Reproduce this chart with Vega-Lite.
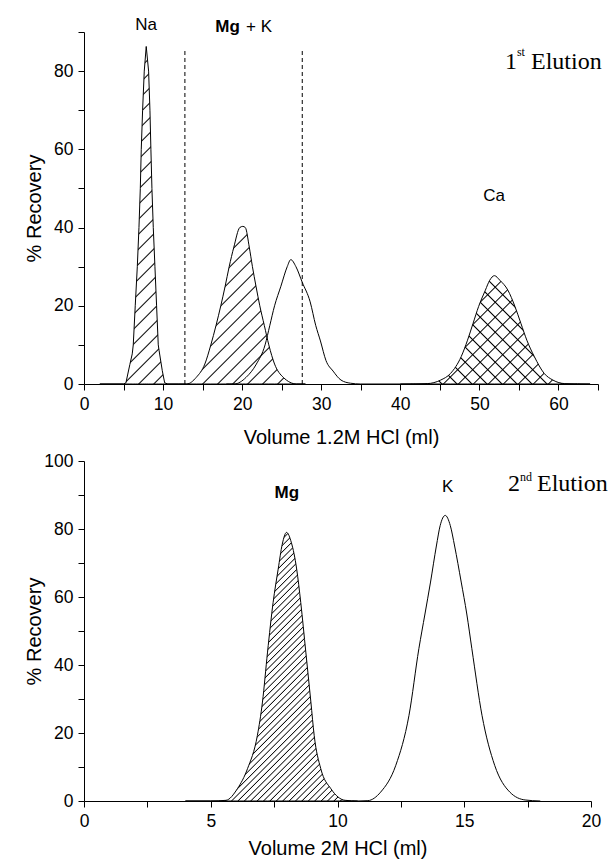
{
"$schema":"https://vega.github.io/schema/vega-lite/v6.json",
"background":"white",
"padding":{"left":24,"top":15,"right":0,"bottom":2},
"spacing":4,
"config":{"view":{"stroke":null},
"axis":{"labelFont":"Liberation Sans","labelFontSize":17.5,"labelColor":"#000","titleFont":"Liberation Sans","titleFontSize":20,"titleFontWeight":"normal","titleColor":"#000","domainColor":"#000","domainWidth":1,"tickColor":"#000","tickWidth":1,"tickSize":6,"labelPadding":5,"grid":false,"labelFlush":false,"labelOverlap":false}},
"vconcat":[
{"width":514,"height":352,
"data":{"values":[
{"s":"Na","x":2,"y":0},{"s":"Na","x":5.0,"y":0},{"s":"Na","x":5.3,"y":0.3},{"s":"Na","x":5.8,"y":5},{"s":"Na","x":6.1,"y":7.7},{"s":"Na","x":6.23,"y":10},{"s":"Na","x":6.48,"y":20},{"s":"Na","x":6.74,"y":30},{"s":"Na","x":6.95,"y":40},{"s":"Na","x":7.12,"y":50},{"s":"Na","x":7.24,"y":60},{"s":"Na","x":7.41,"y":70},{"s":"Na","x":7.62,"y":80},{"s":"Na","x":7.87,"y":86.3},{"s":"Na","x":8.17,"y":80},{"s":"Na","x":8.34,"y":70},{"s":"Na","x":8.46,"y":60},{"s":"Na","x":8.59,"y":50},{"s":"Na","x":8.76,"y":40},{"s":"Na","x":8.97,"y":30},{"s":"Na","x":9.18,"y":20},{"s":"Na","x":9.39,"y":10},{"s":"Na","x":9.5,"y":8.5},{"s":"Na","x":9.9,"y":3.4},{"s":"Na","x":10.2,"y":0.3},{"s":"Na","x":10.6,"y":0},{"s":"Na","x":12,"y":0},
{"s":"Mg","x":12,"y":0},{"s":"Mg","x":13,"y":0},{"s":"Mg","x":14.2,"y":1.7},{"s":"Mg","x":15.28,"y":5.1},{"s":"Mg","x":16.04,"y":10},{"s":"Mg","x":16.7,"y":15},{"s":"Mg","x":17.3,"y":20},{"s":"Mg","x":17.85,"y":25},{"s":"Mg","x":18.36,"y":30},{"s":"Mg","x":18.95,"y":35},{"s":"Mg","x":19.7,"y":40},{"s":"Mg","x":20.08,"y":40.3},{"s":"Mg","x":20.4,"y":40},{"s":"Mg","x":20.9,"y":35},{"s":"Mg","x":21.3,"y":30},{"s":"Mg","x":21.75,"y":25},{"s":"Mg","x":22.23,"y":20},{"s":"Mg","x":22.8,"y":15},{"s":"Mg","x":23.37,"y":10},{"s":"Mg","x":24.1,"y":5.1},{"s":"Mg","x":25.2,"y":1.7},{"s":"Mg","x":26.9,"y":0},{"s":"Mg","x":28,"y":0},
{"s":"K","x":18,"y":0},{"s":"K","x":19,"y":0},{"s":"K","x":20.5,"y":1.7},{"s":"K","x":21.8,"y":5.1},{"s":"K","x":22.9,"y":10},{"s":"K","x":23.5,"y":15},{"s":"K","x":24.1,"y":20},{"s":"K","x":24.9,"y":25},{"s":"K","x":25.7,"y":30},{"s":"K","x":26.15,"y":31.8},{"s":"K","x":26.8,"y":30},{"s":"K","x":27.6,"y":26},{"s":"K","x":28.6,"y":21},{"s":"K","x":29.3,"y":15},{"s":"K","x":29.9,"y":11},{"s":"K","x":30.6,"y":6},{"s":"K","x":31.5,"y":3.3},{"s":"K","x":32.5,"y":1},{"s":"K","x":33.7,"y":0.2},{"s":"K","x":35,"y":0},{"s":"K","x":40,"y":0},
{"s":"Ca","x":40,"y":0},{"s":"Ca","x":43.4,"y":0.1},{"s":"Ca","x":45.1,"y":1},{"s":"Ca","x":46.35,"y":2.7},{"s":"Ca","x":47.7,"y":7},{"s":"Ca","x":48.5,"y":11.2},{"s":"Ca","x":49.2,"y":15.5},{"s":"Ca","x":49.9,"y":19.8},{"s":"Ca","x":50.76,"y":24},{"s":"Ca","x":51.3,"y":26.5},{"s":"Ca","x":51.9,"y":27.7},{"s":"Ca","x":52.6,"y":26.5},{"s":"Ca","x":53.6,"y":24},{"s":"Ca","x":54.5,"y":19.8},{"s":"Ca","x":55.25,"y":15.5},{"s":"Ca","x":56.0,"y":11.2},{"s":"Ca","x":56.95,"y":7},{"s":"Ca","x":58.2,"y":2.7},{"s":"Ca","x":59.3,"y":1},{"s":"Ca","x":60.8,"y":0.1},{"s":"Ca","x":64,"y":0}
]},
"encoding":{
"x":{"field":"x","type":"quantitative","scale":{"domain":[0,65],"nice":false,"zero":false},"axis":{"values":[0,5,10,15,20,25,30,35,40,45,50,55,60,65],"labelExpr":"datum.value % 10 === 0 ? datum.label : ''","encode":{"ticks":{"update":{"y2":{"signal":"datum.value % 10 === 0 ? 6 : 3"}}}},"title":"Volume 1.2M HCl (ml)","titleY":59.4,"titleBaseline":"alphabetic"}},
"y":{"field":"y","type":"quantitative","scale":{"domain":[0,90],"nice":false},"axis":{"values":[0,10,20,30,40,50,60,70,80,90],"labelExpr":"datum.value % 20 === 0 ? datum.label : ''","encode":{"ticks":{"update":{"x2":{"signal":"datum.value % 20 === 0 ? -6 : -3"}}}},"title":"% Recovery","titleX":-44,"titleY":176,"titleBaseline":"alphabetic","titleAngle":-90}}
},
"layer":[
{"transform":[{"filter":"datum.s==='Na'"}],"mark":{"type":"area","interpolate":"linear","opacity":1,"fillOpacity":1,"stroke":"#000","strokeWidth":1,"fill":{"gradient":"linear","x1":0,"y1":0,"x2":0.2962,"y2":1.264,"stops":[
{"offset":0,"color":"transparent"},{"offset":0.0031,"color":"#000"},{"offset":0.0063,"color":"transparent"},
{"offset":0.0333,"color":"transparent"},{"offset":0.0364,"color":"#000"},{"offset":0.0396,"color":"transparent"},
{"offset":0.0667,"color":"transparent"},{"offset":0.0698,"color":"#000"},{"offset":0.073,"color":"transparent"},
{"offset":0.1,"color":"transparent"},{"offset":0.1031,"color":"#000"},{"offset":0.1063,"color":"transparent"},
{"offset":0.1333,"color":"transparent"},{"offset":0.1364,"color":"#000"},{"offset":0.1396,"color":"transparent"},
{"offset":0.1667,"color":"transparent"},{"offset":0.1698,"color":"#000"},{"offset":0.173,"color":"transparent"},
{"offset":0.2,"color":"transparent"},{"offset":0.2031,"color":"#000"},{"offset":0.2063,"color":"transparent"},
{"offset":0.2333,"color":"transparent"},{"offset":0.2364,"color":"#000"},{"offset":0.2396,"color":"transparent"},
{"offset":0.2667,"color":"transparent"},{"offset":0.2698,"color":"#000"},{"offset":0.273,"color":"transparent"},
{"offset":0.3,"color":"transparent"},{"offset":0.3031,"color":"#000"},{"offset":0.3063,"color":"transparent"},
{"offset":0.3333,"color":"transparent"},{"offset":0.3364,"color":"#000"},{"offset":0.3396,"color":"transparent"},
{"offset":0.3667,"color":"transparent"},{"offset":0.3698,"color":"#000"},{"offset":0.373,"color":"transparent"},
{"offset":0.4,"color":"transparent"},{"offset":0.4031,"color":"#000"},{"offset":0.4063,"color":"transparent"},
{"offset":0.4333,"color":"transparent"},{"offset":0.4364,"color":"#000"},{"offset":0.4396,"color":"transparent"},
{"offset":0.4667,"color":"transparent"},{"offset":0.4698,"color":"#000"},{"offset":0.473,"color":"transparent"},
{"offset":0.5,"color":"transparent"},{"offset":0.5031,"color":"#000"},{"offset":0.5063,"color":"transparent"},
{"offset":0.5333,"color":"transparent"},{"offset":0.5364,"color":"#000"},{"offset":0.5396,"color":"transparent"},
{"offset":0.5667,"color":"transparent"},{"offset":0.5698,"color":"#000"},{"offset":0.573,"color":"transparent"},
{"offset":0.6,"color":"transparent"},{"offset":0.6031,"color":"#000"},{"offset":0.6063,"color":"transparent"},
{"offset":0.6333,"color":"transparent"},{"offset":0.6364,"color":"#000"},{"offset":0.6396,"color":"transparent"},
{"offset":0.6667,"color":"transparent"},{"offset":0.6698,"color":"#000"},{"offset":0.673,"color":"transparent"},
{"offset":0.7,"color":"transparent"},{"offset":0.7031,"color":"#000"},{"offset":0.7063,"color":"transparent"},
{"offset":0.7333,"color":"transparent"},{"offset":0.7364,"color":"#000"},{"offset":0.7396,"color":"transparent"},
{"offset":0.7667,"color":"transparent"},{"offset":0.7698,"color":"#000"},{"offset":0.773,"color":"transparent"},
{"offset":0.8,"color":"transparent"},{"offset":0.8031,"color":"#000"},{"offset":0.8063,"color":"transparent"},
{"offset":0.8333,"color":"transparent"},{"offset":0.8364,"color":"#000"},{"offset":0.8396,"color":"transparent"},
{"offset":0.8667,"color":"transparent"},{"offset":0.8698,"color":"#000"},{"offset":0.873,"color":"transparent"},
{"offset":0.9,"color":"transparent"},{"offset":0.9031,"color":"#000"},{"offset":0.9063,"color":"transparent"}
]}}},
{"transform":[{"filter":"datum.s==='Mg'"}],"mark":{"type":"area","interpolate":"monotone","opacity":1,"fillOpacity":1,"stroke":"#000","strokeWidth":1,"fill":{"gradient":"linear","x1":0,"y1":0,"x2":1.3937,"y2":1.7363,"stops":[
{"offset":0,"color":"transparent"},{"offset":0.0031,"color":"#000"},{"offset":0.0063,"color":"transparent"},
{"offset":0.0333,"color":"transparent"},{"offset":0.0364,"color":"#000"},{"offset":0.0396,"color":"transparent"},
{"offset":0.0667,"color":"transparent"},{"offset":0.0698,"color":"#000"},{"offset":0.073,"color":"transparent"},
{"offset":0.1,"color":"transparent"},{"offset":0.1031,"color":"#000"},{"offset":0.1063,"color":"transparent"},
{"offset":0.1333,"color":"transparent"},{"offset":0.1364,"color":"#000"},{"offset":0.1396,"color":"transparent"},
{"offset":0.1667,"color":"transparent"},{"offset":0.1698,"color":"#000"},{"offset":0.173,"color":"transparent"},
{"offset":0.2,"color":"transparent"},{"offset":0.2031,"color":"#000"},{"offset":0.2063,"color":"transparent"},
{"offset":0.2333,"color":"transparent"},{"offset":0.2364,"color":"#000"},{"offset":0.2396,"color":"transparent"},
{"offset":0.2667,"color":"transparent"},{"offset":0.2698,"color":"#000"},{"offset":0.273,"color":"transparent"},
{"offset":0.3,"color":"transparent"},{"offset":0.3031,"color":"#000"},{"offset":0.3063,"color":"transparent"},
{"offset":0.3333,"color":"transparent"},{"offset":0.3364,"color":"#000"},{"offset":0.3396,"color":"transparent"},
{"offset":0.3667,"color":"transparent"},{"offset":0.3698,"color":"#000"},{"offset":0.373,"color":"transparent"},
{"offset":0.4,"color":"transparent"},{"offset":0.4031,"color":"#000"},{"offset":0.4063,"color":"transparent"},
{"offset":0.4333,"color":"transparent"},{"offset":0.4364,"color":"#000"},{"offset":0.4396,"color":"transparent"},
{"offset":0.4667,"color":"transparent"},{"offset":0.4698,"color":"#000"},{"offset":0.473,"color":"transparent"},
{"offset":0.5,"color":"transparent"},{"offset":0.5031,"color":"#000"},{"offset":0.5063,"color":"transparent"},
{"offset":0.5333,"color":"transparent"},{"offset":0.5364,"color":"#000"},{"offset":0.5396,"color":"transparent"},
{"offset":0.5667,"color":"transparent"},{"offset":0.5698,"color":"#000"},{"offset":0.573,"color":"transparent"},
{"offset":0.6,"color":"transparent"},{"offset":0.6031,"color":"#000"},{"offset":0.6063,"color":"transparent"}
]}}},
{"transform":[{"filter":"datum.s==='K'"}],"mark":{"type":"line","interpolate":"monotone","color":"#000","strokeWidth":1}},
{"transform":[{"filter":"datum.s==='Ca'"}],"mark":{"type":"area","interpolate":"monotone","opacity":1,"fillOpacity":1,"strokeWidth":0,"fill":{"gradient":"linear","x1":1,"y1":0,"x2":-0.7883,"y2":1.0209,"stops":[
{"offset":0,"color":"transparent"},{"offset":0.0031,"color":"#000"},{"offset":0.0063,"color":"transparent"},
{"offset":0.0333,"color":"transparent"},{"offset":0.0364,"color":"#000"},{"offset":0.0396,"color":"transparent"},
{"offset":0.0667,"color":"transparent"},{"offset":0.0698,"color":"#000"},{"offset":0.073,"color":"transparent"},
{"offset":0.1,"color":"transparent"},{"offset":0.1031,"color":"#000"},{"offset":0.1063,"color":"transparent"},
{"offset":0.1333,"color":"transparent"},{"offset":0.1364,"color":"#000"},{"offset":0.1396,"color":"transparent"},
{"offset":0.1667,"color":"transparent"},{"offset":0.1698,"color":"#000"},{"offset":0.173,"color":"transparent"},
{"offset":0.2,"color":"transparent"},{"offset":0.2031,"color":"#000"},{"offset":0.2063,"color":"transparent"},
{"offset":0.2333,"color":"transparent"},{"offset":0.2364,"color":"#000"},{"offset":0.2396,"color":"transparent"},
{"offset":0.2667,"color":"transparent"},{"offset":0.2698,"color":"#000"},{"offset":0.273,"color":"transparent"},
{"offset":0.3,"color":"transparent"},{"offset":0.3031,"color":"#000"},{"offset":0.3063,"color":"transparent"},
{"offset":0.3333,"color":"transparent"},{"offset":0.3364,"color":"#000"},{"offset":0.3396,"color":"transparent"},
{"offset":0.3667,"color":"transparent"},{"offset":0.3698,"color":"#000"},{"offset":0.373,"color":"transparent"},
{"offset":0.4,"color":"transparent"},{"offset":0.4031,"color":"#000"},{"offset":0.4063,"color":"transparent"},
{"offset":0.4333,"color":"transparent"},{"offset":0.4364,"color":"#000"},{"offset":0.4396,"color":"transparent"},
{"offset":0.4667,"color":"transparent"},{"offset":0.4698,"color":"#000"},{"offset":0.473,"color":"transparent"},
{"offset":0.5,"color":"transparent"},{"offset":0.5031,"color":"#000"},{"offset":0.5063,"color":"transparent"},
{"offset":0.5333,"color":"transparent"},{"offset":0.5364,"color":"#000"},{"offset":0.5396,"color":"transparent"},
{"offset":0.5667,"color":"transparent"},{"offset":0.5698,"color":"#000"},{"offset":0.573,"color":"transparent"},
{"offset":0.6,"color":"transparent"},{"offset":0.6031,"color":"#000"},{"offset":0.6063,"color":"transparent"},
{"offset":0.6333,"color":"transparent"},{"offset":0.6364,"color":"#000"},{"offset":0.6396,"color":"transparent"}
]}}},
{"transform":[{"filter":"datum.s==='Ca'"}],"mark":{"type":"area","interpolate":"monotone","opacity":1,"fillOpacity":1,"stroke":"#000","strokeWidth":1,"fill":{"gradient":"linear","x1":0,"y1":0,"x2":1.7883,"y2":1.0209,"stops":[
{"offset":0,"color":"transparent"},{"offset":0.0031,"color":"#000"},{"offset":0.0063,"color":"transparent"},
{"offset":0.0333,"color":"transparent"},{"offset":0.0364,"color":"#000"},{"offset":0.0396,"color":"transparent"},
{"offset":0.0667,"color":"transparent"},{"offset":0.0698,"color":"#000"},{"offset":0.073,"color":"transparent"},
{"offset":0.1,"color":"transparent"},{"offset":0.1031,"color":"#000"},{"offset":0.1063,"color":"transparent"},
{"offset":0.1333,"color":"transparent"},{"offset":0.1364,"color":"#000"},{"offset":0.1396,"color":"transparent"},
{"offset":0.1667,"color":"transparent"},{"offset":0.1698,"color":"#000"},{"offset":0.173,"color":"transparent"},
{"offset":0.2,"color":"transparent"},{"offset":0.2031,"color":"#000"},{"offset":0.2063,"color":"transparent"},
{"offset":0.2333,"color":"transparent"},{"offset":0.2364,"color":"#000"},{"offset":0.2396,"color":"transparent"},
{"offset":0.2667,"color":"transparent"},{"offset":0.2698,"color":"#000"},{"offset":0.273,"color":"transparent"},
{"offset":0.3,"color":"transparent"},{"offset":0.3031,"color":"#000"},{"offset":0.3063,"color":"transparent"},
{"offset":0.3333,"color":"transparent"},{"offset":0.3364,"color":"#000"},{"offset":0.3396,"color":"transparent"},
{"offset":0.3667,"color":"transparent"},{"offset":0.3698,"color":"#000"},{"offset":0.373,"color":"transparent"},
{"offset":0.4,"color":"transparent"},{"offset":0.4031,"color":"#000"},{"offset":0.4063,"color":"transparent"},
{"offset":0.4333,"color":"transparent"},{"offset":0.4364,"color":"#000"},{"offset":0.4396,"color":"transparent"},
{"offset":0.4667,"color":"transparent"},{"offset":0.4698,"color":"#000"},{"offset":0.473,"color":"transparent"},
{"offset":0.5,"color":"transparent"},{"offset":0.5031,"color":"#000"},{"offset":0.5063,"color":"transparent"},
{"offset":0.5333,"color":"transparent"},{"offset":0.5364,"color":"#000"},{"offset":0.5396,"color":"transparent"},
{"offset":0.5667,"color":"transparent"},{"offset":0.5698,"color":"#000"},{"offset":0.573,"color":"transparent"},
{"offset":0.6,"color":"transparent"},{"offset":0.6031,"color":"#000"},{"offset":0.6063,"color":"transparent"},
{"offset":0.6333,"color":"transparent"},{"offset":0.6364,"color":"#000"},{"offset":0.6396,"color":"transparent"}
]}}},
{"data":{"values":[{"x":12.76,"y":0,"y2":85.7},{"x":27.6,"y":0,"y2":85.7}]},"mark":{"type":"rule","strokeDash":[4,3],"color":"#000","strokeWidth":1},"encoding":{"y2":{"field":"y2"}}},
{"data":{"values":[{"t":"Na","x":7.84,"y":91.9},{"t":"+ K","x":22.13,"y":91.35},{"t":"Ca","x":51.85,"y":48.1}]},"mark":{"type":"text","font":"Liberation Sans","fontSize":17,"align":"center","baseline":"middle","color":"#000"},"encoding":{"text":{"field":"t"}}},
{"data":{"values":[{"t":"Mg","x":18.15,"y":91.35}]},"mark":{"type":"text","font":"Liberation Sans","fontSize":17,"fontWeight":"bold","align":"center","baseline":"middle","color":"#000"},"encoding":{"text":{"field":"t"}}},
{"data":{"values":[{"t":"1","x":53.24,"y":80.6},{"t":"Elution","x":56.53,"y":80.6}]},"mark":{"type":"text","font":"Liberation Serif","fontSize":24,"align":"left","baseline":"alphabetic","color":"#000"},"encoding":{"text":{"field":"t"}}},
{"data":{"values":[{"t":"st","x":54.75,"y":83.9}]},"mark":{"type":"text","font":"Liberation Serif","fontSize":12,"align":"left","baseline":"alphabetic","color":"#000"},"encoding":{"text":{"field":"t"}}}
]},
{"width":507,"height":340,
"data":{"values":[
{"s":"Mg","x":4,"y":0},{"s":"Mg","x":5.0,"y":0},{"s":"Mg","x":5.6,"y":0.2},{"s":"Mg","x":6.05,"y":3.6},{"s":"Mg","x":6.45,"y":9.5},{"s":"Mg","x":6.84,"y":19.3},{"s":"Mg","x":7.04,"y":29.1},{"s":"Mg","x":7.24,"y":43.8},{"s":"Mg","x":7.46,"y":58.4},{"s":"Mg","x":7.66,"y":68.2},{"s":"Mg","x":7.82,"y":75.5},{"s":"Mg","x":7.99,"y":79},{"s":"Mg","x":8.18,"y":76},{"s":"Mg","x":8.39,"y":68.2},{"s":"Mg","x":8.55,"y":58.4},{"s":"Mg","x":8.75,"y":43.8},{"s":"Mg","x":8.95,"y":29.1},{"s":"Mg","x":9.08,"y":19.3},{"s":"Mg","x":9.34,"y":9.5},{"s":"Mg","x":9.74,"y":3.6},{"s":"Mg","x":10.3,"y":0.2},{"s":"Mg","x":10.8,"y":0},
{"s":"K","x":10.8,"y":0},{"s":"K","x":11.2,"y":0.1},{"s":"K","x":11.7,"y":2.6},{"s":"K","x":12.3,"y":10.5},{"s":"K","x":12.82,"y":25.2},{"s":"K","x":13.21,"y":44.8},{"s":"K","x":13.45,"y":55},{"s":"K","x":13.67,"y":64.4},{"s":"K","x":13.9,"y":75},{"s":"K","x":14.05,"y":81},{"s":"K","x":14.25,"y":84},{"s":"K","x":14.45,"y":81},{"s":"K","x":14.62,"y":75},{"s":"K","x":14.88,"y":64.4},{"s":"K","x":15.1,"y":55},{"s":"K","x":15.3,"y":44.8},{"s":"K","x":15.7,"y":25.2},{"s":"K","x":16.2,"y":10.5},{"s":"K","x":16.8,"y":2.6},{"s":"K","x":17.4,"y":0.3},{"s":"K","x":18,"y":0}
]},
"encoding":{
"x":{"field":"x","type":"quantitative","scale":{"domain":[0,20],"nice":false,"zero":false},"axis":{"values":[0,2.5,5,7.5,10,12.5,15,17.5,20],"labelExpr":"datum.value % 5 === 0 ? datum.label : ''","encode":{"ticks":{"update":{"y2":{"signal":"datum.value % 5 === 0 ? 6 : 3"}}}},"title":"Volume 2M HCl (ml)","titleY":53,"titleBaseline":"alphabetic"}},
"y":{"field":"y","type":"quantitative","scale":{"domain":[0,100],"nice":false},"axis":{"values":[0,10,20,30,40,50,60,70,80,90,100],"labelExpr":"datum.value % 20 === 0 ? datum.label : ''","encode":{"ticks":{"update":{"x2":{"signal":"datum.value % 20 === 0 ? -6 : -3"}}}},"title":"% Recovery","titleX":-44,"titleY":170,"titleBaseline":"alphabetic","titleAngle":-90}}
},
"layer":[
{"transform":[{"filter":"datum.s==='Mg'"}],"mark":{"type":"area","interpolate":"monotone","opacity":1,"fillOpacity":1,"stroke":"#000","strokeWidth":1,"fill":{"gradient":"linear","x1":0,"y1":0,"x2":0.7582,"y2":1.1813,"stops":[
{"offset":0,"color":"transparent"},{"offset":0.0025,"color":"#000"},{"offset":0.005,"color":"transparent"},
{"offset":0.0143,"color":"transparent"},{"offset":0.0168,"color":"#000"},{"offset":0.0193,"color":"transparent"},
{"offset":0.0286,"color":"transparent"},{"offset":0.0311,"color":"#000"},{"offset":0.0336,"color":"transparent"},
{"offset":0.0429,"color":"transparent"},{"offset":0.0454,"color":"#000"},{"offset":0.0479,"color":"transparent"},
{"offset":0.0571,"color":"transparent"},{"offset":0.0596,"color":"#000"},{"offset":0.0621,"color":"transparent"},
{"offset":0.0714,"color":"transparent"},{"offset":0.0739,"color":"#000"},{"offset":0.0764,"color":"transparent"},
{"offset":0.0857,"color":"transparent"},{"offset":0.0882,"color":"#000"},{"offset":0.0907,"color":"transparent"},
{"offset":0.1,"color":"transparent"},{"offset":0.1025,"color":"#000"},{"offset":0.105,"color":"transparent"},
{"offset":0.1143,"color":"transparent"},{"offset":0.1168,"color":"#000"},{"offset":0.1193,"color":"transparent"},
{"offset":0.1286,"color":"transparent"},{"offset":0.1311,"color":"#000"},{"offset":0.1336,"color":"transparent"},
{"offset":0.1429,"color":"transparent"},{"offset":0.1454,"color":"#000"},{"offset":0.1479,"color":"transparent"},
{"offset":0.1571,"color":"transparent"},{"offset":0.1596,"color":"#000"},{"offset":0.1621,"color":"transparent"},
{"offset":0.1714,"color":"transparent"},{"offset":0.1739,"color":"#000"},{"offset":0.1764,"color":"transparent"},
{"offset":0.1857,"color":"transparent"},{"offset":0.1882,"color":"#000"},{"offset":0.1907,"color":"transparent"},
{"offset":0.2,"color":"transparent"},{"offset":0.2025,"color":"#000"},{"offset":0.205,"color":"transparent"},
{"offset":0.2143,"color":"transparent"},{"offset":0.2168,"color":"#000"},{"offset":0.2193,"color":"transparent"},
{"offset":0.2286,"color":"transparent"},{"offset":0.2311,"color":"#000"},{"offset":0.2336,"color":"transparent"},
{"offset":0.2429,"color":"transparent"},{"offset":0.2454,"color":"#000"},{"offset":0.2479,"color":"transparent"},
{"offset":0.2571,"color":"transparent"},{"offset":0.2596,"color":"#000"},{"offset":0.2621,"color":"transparent"},
{"offset":0.2714,"color":"transparent"},{"offset":0.2739,"color":"#000"},{"offset":0.2764,"color":"transparent"},
{"offset":0.2857,"color":"transparent"},{"offset":0.2882,"color":"#000"},{"offset":0.2907,"color":"transparent"},
{"offset":0.3,"color":"transparent"},{"offset":0.3025,"color":"#000"},{"offset":0.305,"color":"transparent"},
{"offset":0.3143,"color":"transparent"},{"offset":0.3168,"color":"#000"},{"offset":0.3193,"color":"transparent"},
{"offset":0.3286,"color":"transparent"},{"offset":0.3311,"color":"#000"},{"offset":0.3336,"color":"transparent"},
{"offset":0.3429,"color":"transparent"},{"offset":0.3454,"color":"#000"},{"offset":0.3479,"color":"transparent"},
{"offset":0.3571,"color":"transparent"},{"offset":0.3596,"color":"#000"},{"offset":0.3621,"color":"transparent"},
{"offset":0.3714,"color":"transparent"},{"offset":0.3739,"color":"#000"},{"offset":0.3764,"color":"transparent"},
{"offset":0.3857,"color":"transparent"},{"offset":0.3882,"color":"#000"},{"offset":0.3907,"color":"transparent"},
{"offset":0.4,"color":"transparent"},{"offset":0.4025,"color":"#000"},{"offset":0.405,"color":"transparent"},
{"offset":0.4143,"color":"transparent"},{"offset":0.4168,"color":"#000"},{"offset":0.4193,"color":"transparent"},
{"offset":0.4286,"color":"transparent"},{"offset":0.4311,"color":"#000"},{"offset":0.4336,"color":"transparent"},
{"offset":0.4429,"color":"transparent"},{"offset":0.4454,"color":"#000"},{"offset":0.4479,"color":"transparent"},
{"offset":0.4571,"color":"transparent"},{"offset":0.4596,"color":"#000"},{"offset":0.4621,"color":"transparent"},
{"offset":0.4714,"color":"transparent"},{"offset":0.4739,"color":"#000"},{"offset":0.4764,"color":"transparent"},
{"offset":0.4857,"color":"transparent"},{"offset":0.4882,"color":"#000"},{"offset":0.4907,"color":"transparent"},
{"offset":0.5,"color":"transparent"},{"offset":0.5025,"color":"#000"},{"offset":0.505,"color":"transparent"},
{"offset":0.5143,"color":"transparent"},{"offset":0.5168,"color":"#000"},{"offset":0.5193,"color":"transparent"},
{"offset":0.5286,"color":"transparent"},{"offset":0.5311,"color":"#000"},{"offset":0.5336,"color":"transparent"},
{"offset":0.5429,"color":"transparent"},{"offset":0.5454,"color":"#000"},{"offset":0.5479,"color":"transparent"},
{"offset":0.5571,"color":"transparent"},{"offset":0.5596,"color":"#000"},{"offset":0.5621,"color":"transparent"},
{"offset":0.5714,"color":"transparent"},{"offset":0.5739,"color":"#000"},{"offset":0.5764,"color":"transparent"},
{"offset":0.5857,"color":"transparent"},{"offset":0.5882,"color":"#000"},{"offset":0.5907,"color":"transparent"},
{"offset":0.6,"color":"transparent"},{"offset":0.6025,"color":"#000"},{"offset":0.605,"color":"transparent"},
{"offset":0.6143,"color":"transparent"},{"offset":0.6168,"color":"#000"},{"offset":0.6193,"color":"transparent"},
{"offset":0.6286,"color":"transparent"},{"offset":0.6311,"color":"#000"},{"offset":0.6336,"color":"transparent"},
{"offset":0.6429,"color":"transparent"},{"offset":0.6454,"color":"#000"},{"offset":0.6479,"color":"transparent"},
{"offset":0.6571,"color":"transparent"},{"offset":0.6596,"color":"#000"},{"offset":0.6621,"color":"transparent"},
{"offset":0.6714,"color":"transparent"},{"offset":0.6739,"color":"#000"},{"offset":0.6764,"color":"transparent"},
{"offset":0.6857,"color":"transparent"},{"offset":0.6882,"color":"#000"},{"offset":0.6907,"color":"transparent"},
{"offset":0.7,"color":"transparent"},{"offset":0.7025,"color":"#000"},{"offset":0.705,"color":"transparent"},
{"offset":0.7143,"color":"transparent"},{"offset":0.7168,"color":"#000"},{"offset":0.7193,"color":"transparent"},
{"offset":0.7286,"color":"transparent"},{"offset":0.7311,"color":"#000"},{"offset":0.7336,"color":"transparent"},
{"offset":0.7429,"color":"transparent"},{"offset":0.7454,"color":"#000"},{"offset":0.7479,"color":"transparent"},
{"offset":0.7571,"color":"transparent"},{"offset":0.7596,"color":"#000"},{"offset":0.7621,"color":"transparent"},
{"offset":0.7714,"color":"transparent"},{"offset":0.7739,"color":"#000"},{"offset":0.7764,"color":"transparent"},
{"offset":0.7857,"color":"transparent"},{"offset":0.7882,"color":"#000"},{"offset":0.7907,"color":"transparent"},
{"offset":0.8,"color":"transparent"},{"offset":0.8025,"color":"#000"},{"offset":0.805,"color":"transparent"},
{"offset":0.8143,"color":"transparent"},{"offset":0.8168,"color":"#000"},{"offset":0.8193,"color":"transparent"},
{"offset":0.8286,"color":"transparent"},{"offset":0.8311,"color":"#000"},{"offset":0.8336,"color":"transparent"},
{"offset":0.8429,"color":"transparent"},{"offset":0.8454,"color":"#000"},{"offset":0.8479,"color":"transparent"},
{"offset":0.8571,"color":"transparent"},{"offset":0.8596,"color":"#000"},{"offset":0.8621,"color":"transparent"},
{"offset":0.8714,"color":"transparent"},{"offset":0.8739,"color":"#000"},{"offset":0.8764,"color":"transparent"},
{"offset":0.8857,"color":"transparent"},{"offset":0.8882,"color":"#000"},{"offset":0.8907,"color":"transparent"},
{"offset":0.9,"color":"transparent"},{"offset":0.9025,"color":"#000"},{"offset":0.905,"color":"transparent"},
{"offset":0.9143,"color":"transparent"},{"offset":0.9168,"color":"#000"},{"offset":0.9193,"color":"transparent"},
{"offset":0.9286,"color":"transparent"},{"offset":0.9311,"color":"#000"},{"offset":0.9336,"color":"transparent"},
{"offset":0.9429,"color":"transparent"},{"offset":0.9454,"color":"#000"},{"offset":0.9479,"color":"transparent"},
{"offset":0.9571,"color":"transparent"},{"offset":0.9596,"color":"#000"},{"offset":0.9621,"color":"transparent"},
{"offset":0.9714,"color":"transparent"},{"offset":0.9739,"color":"#000"},{"offset":0.9764,"color":"transparent"}
]}}},
{"transform":[{"filter":"datum.s==='K'"}],"mark":{"type":"line","interpolate":"monotone","color":"#000","strokeWidth":1}},
{"data":{"values":[{"t":"Mg","x":8.0,"y":90.7}]},"mark":{"type":"text","font":"Liberation Sans","fontSize":17,"fontWeight":"bold","align":"center","baseline":"middle","color":"#000"},"encoding":{"text":{"field":"t"}}},
{"data":{"values":[{"t":"K","x":14.35,"y":92.4}]},"mark":{"type":"text","font":"Liberation Sans","fontSize":17,"align":"center","baseline":"middle","color":"#000"},"encoding":{"text":{"field":"t"}}},
{"data":{"values":[{"t":"2","x":16.73,"y":91.2},{"t":"Elution","x":17.87,"y":91.2}]},"mark":{"type":"text","font":"Liberation Serif","fontSize":24,"align":"left","baseline":"alphabetic","color":"#000"},"encoding":{"text":{"field":"t"}}},
{"data":{"values":[{"t":"nd","x":17.2,"y":94.1}]},"mark":{"type":"text","font":"Liberation Serif","fontSize":12,"align":"left","baseline":"alphabetic","color":"#000"},"encoding":{"text":{"field":"t"}}}
]}
]
}
